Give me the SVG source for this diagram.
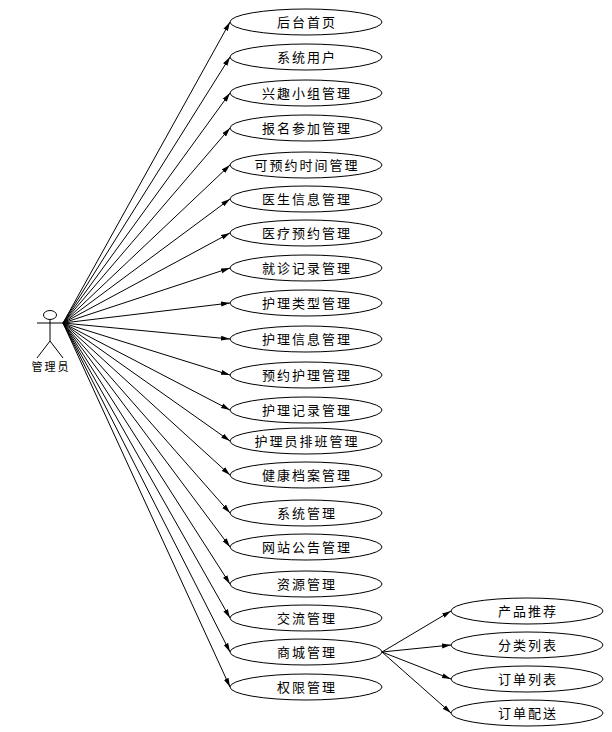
<svg xmlns="http://www.w3.org/2000/svg" width="612" height="732" viewBox="0 0 612 732">
<style>
.u{fill:#fff;stroke:#000;stroke-width:1}
.t{font-family:"Noto Sans CJK SC","Liberation Sans",sans-serif;font-size:13px;letter-spacing:2px;text-anchor:middle;fill:#000}
.a{font-size:11px;letter-spacing:2px}
.c line{stroke:#000;stroke-width:1;marker-end:url(#m)}
.s{fill:none;stroke:#000;stroke-width:1}
</style>
<defs><marker id="m" markerUnits="userSpaceOnUse" markerWidth="9" markerHeight="6" refX="9" refY="3" orient="auto"><path d="M0 0.5L9 3L0 5.5Z" fill="#000"/></marker></defs>
<rect width="612" height="732" fill="#fff"/>
<g id="connectors" class="c">
<line x1="63" y1="323" x2="230" y2="22"/>
<line x1="63" y1="323" x2="230" y2="57"/>
<line x1="63" y1="323" x2="230" y2="93"/>
<line x1="63" y1="323" x2="230" y2="128"/>
<line x1="63" y1="323" x2="230" y2="165"/>
<line x1="63" y1="323" x2="230" y2="199"/>
<line x1="63" y1="323" x2="230" y2="233"/>
<line x1="63" y1="323" x2="230" y2="268"/>
<line x1="63" y1="323" x2="230" y2="303"/>
<line x1="63" y1="323" x2="230" y2="339"/>
<line x1="63" y1="323" x2="230" y2="375"/>
<line x1="63" y1="323" x2="230" y2="410"/>
<line x1="63" y1="323" x2="230" y2="441"/>
<line x1="63" y1="323" x2="230" y2="475"/>
<line x1="63" y1="323" x2="230" y2="513"/>
<line x1="63" y1="323" x2="230" y2="547"/>
<line x1="63" y1="323" x2="230" y2="584"/>
<line x1="63" y1="323" x2="230" y2="618"/>
<line x1="63" y1="323" x2="230" y2="652"/>
<line x1="63" y1="323" x2="230" y2="687"/>
<line x1="382" y1="652" x2="451" y2="611"/>
<line x1="382" y1="652" x2="451" y2="645"/>
<line x1="382" y1="652" x2="451" y2="679"/>
<line x1="382" y1="652" x2="451" y2="713"/>
</g>
<g id="actor">
<ellipse class="s" cx="50" cy="315" rx="6.5" ry="4.5"/>
<path class="s" d="M37 323H63M50 320V341M50 341L37 358M50 341L63 358"/>
<text class="t a" x="51" y="371">管理员</text>
</g>
<g id="n1"><ellipse class="u" cx="306" cy="22" rx="76" ry="13"/><text class="t" x="307" y="26.500">后台首页</text></g>
<g id="n2"><ellipse class="u" cx="306" cy="57" rx="76" ry="13"/><text class="t" x="307" y="61.500">系统用户</text></g>
<g id="n3"><ellipse class="u" cx="306" cy="93" rx="76" ry="13"/><text class="t" x="307" y="97.500">兴趣小组管理</text></g>
<g id="n4"><ellipse class="u" cx="306" cy="128" rx="76" ry="13"/><text class="t" x="307" y="132.500">报名参加管理</text></g>
<g id="n5"><ellipse class="u" cx="306" cy="165" rx="76" ry="13"/><text class="t" x="307" y="170">可预约时间管理</text></g>
<g id="n6"><ellipse class="u" cx="306" cy="199" rx="76" ry="13"/><text class="t" x="307" y="204">医生信息管理</text></g>
<g id="n7"><ellipse class="u" cx="306" cy="233" rx="76" ry="13"/><text class="t" x="307" y="237.500">医疗预约管理</text></g>
<g id="n8"><ellipse class="u" cx="306" cy="268" rx="76" ry="13"/><text class="t" x="307" y="272.500">就诊记录管理</text></g>
<g id="n9"><ellipse class="u" cx="306" cy="303" rx="76" ry="13"/><text class="t" x="307" y="308">护理类型管理</text></g>
<g id="n10"><ellipse class="u" cx="306" cy="339" rx="76" ry="13"/><text class="t" x="307" y="343.500">护理信息管理</text></g>
<g id="n11"><ellipse class="u" cx="306" cy="375" rx="76" ry="13"/><text class="t" x="307" y="380">预约护理管理</text></g>
<g id="n12"><ellipse class="u" cx="306" cy="410" rx="76" ry="13"/><text class="t" x="307" y="415">护理记录管理</text></g>
<g id="n13"><ellipse class="u" cx="306" cy="441" rx="76" ry="13"/><text class="t" x="307" y="445.500">护理员排班管理</text></g>
<g id="n14"><ellipse class="u" cx="306" cy="475" rx="76" ry="13"/><text class="t" x="307" y="479.500">健康档案管理</text></g>
<g id="n15"><ellipse class="u" cx="306" cy="513" rx="76" ry="13"/><text class="t" x="307" y="517.500">系统管理</text></g>
<g id="n16"><ellipse class="u" cx="306" cy="547" rx="76" ry="13"/><text class="t" x="307" y="551.500">网站公告管理</text></g>
<g id="n17"><ellipse class="u" cx="306" cy="584" rx="76" ry="13"/><text class="t" x="307" y="589">资源管理</text></g>
<g id="n18"><ellipse class="u" cx="306" cy="618" rx="76" ry="13"/><text class="t" x="307" y="623">交流管理</text></g>
<g id="n19"><ellipse class="u" cx="306" cy="652" rx="76" ry="13"/><text class="t" x="307" y="657">商城管理</text></g>
<g id="n20"><ellipse class="u" cx="306" cy="687" rx="76" ry="13"/><text class="t" x="307" y="692">权限管理</text></g>
<g id="n21"><ellipse class="u" cx="527" cy="611" rx="76" ry="13"/><text class="t" x="528" y="615.500">产品推荐</text></g>
<g id="n22"><ellipse class="u" cx="527" cy="645" rx="76" ry="13"/><text class="t" x="528" y="649.500">分类列表</text></g>
<g id="n23"><ellipse class="u" cx="527" cy="679" rx="76" ry="13"/><text class="t" x="528" y="683.500">订单列表</text></g>
<g id="n24"><ellipse class="u" cx="527" cy="713" rx="76" ry="13"/><text class="t" x="528" y="717.500">订单配送</text></g>
</svg>
